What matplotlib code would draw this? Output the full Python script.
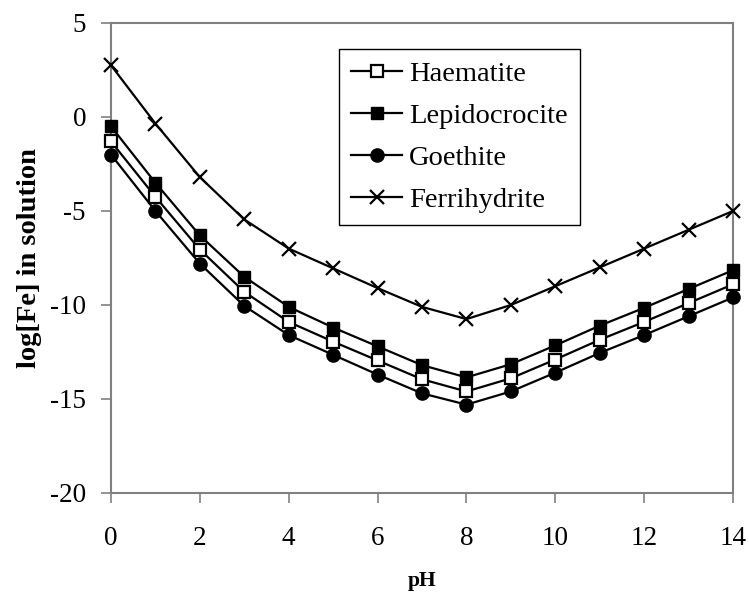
import numpy as np
import matplotlib
matplotlib.use("Agg")
import matplotlib.pyplot as plt

plt.rcParams['font.family'] = ['Liberation Serif', 'DejaVu Serif']
plt.rcParams['axes.unicode_minus'] = False

ph = list(range(0, 15))
haematite = [-1.3, -4.25, -7.05, -9.3, -10.9, -11.95, -12.95, -13.95, -14.6,
             -13.9, -12.9, -11.85, -10.9, -9.9, -8.9]
lepidocrocite = [-0.5, -3.5, -6.3, -8.5, -10.1, -11.2, -12.2, -13.2, -13.85,
                 -13.15, -12.15, -11.1, -10.15, -9.15, -8.15]
goethite = [-2.0, -5.0, -7.8, -10.05, -11.6, -12.65, -13.7, -14.7, -15.3,
            -14.6, -13.6, -12.55, -11.6, -10.6, -9.6]
ferrihydrite = [2.75, -0.35, -3.2, -5.45, -7.0, -8.05, -9.1, -10.1, -10.75,
                -10.0, -9.0, -8.0, -7.0, -6.0, -5.0]

fig = plt.figure(figsize=(7.49, 5.96), dpi=100)
ax = fig.add_axes([111 / 749, 1 - 493 / 596, 622 / 749, 470 / 596])

lw = 1.6
common = dict(color='black', lw=lw, clip_on=False, zorder=3)
ax.plot(ph, haematite, marker='s', ms=9, mfc='white', mec='black',
        mew=1.6, label='Haematite', **common)
ax.plot(ph, lepidocrocite, marker='s', ms=9, mfc='black', mec='black',
        label='Lepidocrocite', **common)
ax.plot(ph, goethite, marker='o', ms=9.5, mfc='black', mec='black',
        label='Goethite', **common)
ax.plot(ph, ferrihydrite, marker='x', ms=10, mew=1.6,
        label='Ferrihydrite', **common)

ax.set_xlim(0, 14)
ax.set_ylim(-20, 5)
ax.set_xticks(range(0, 15, 2))
ax.set_yticks(range(-20, 6, 5))

for s in ax.spines.values():
    s.set_color('#808080')
    s.set_linewidth(1.5)
ax.tick_params(direction='out', length=7, width=1.2, color='#808080',
               labelsize=19.5, labelcolor='black')
ax.tick_params(axis='y', pad=11)
ax.tick_params(axis='x', pad=17)

ax.set_xlabel('pH', fontsize=15.5, fontweight='bold', labelpad=14)
ax.set_ylabel('log[Fe] in solution', fontsize=20.5, fontweight='bold',
              labelpad=6)

leg = ax.legend(loc='upper left', bbox_to_anchor=(0.3666, 0.9447),
                borderaxespad=0, fontsize=20.5, handlelength=1.8,
                handletextpad=0.25, labelspacing=0.57, borderpad=0.42,
                fancybox=False, framealpha=1)
leg.get_frame().set_edgecolor('black')
leg.get_frame().set_linewidth(1.0)

fig.savefig('out.png', dpi=100)
